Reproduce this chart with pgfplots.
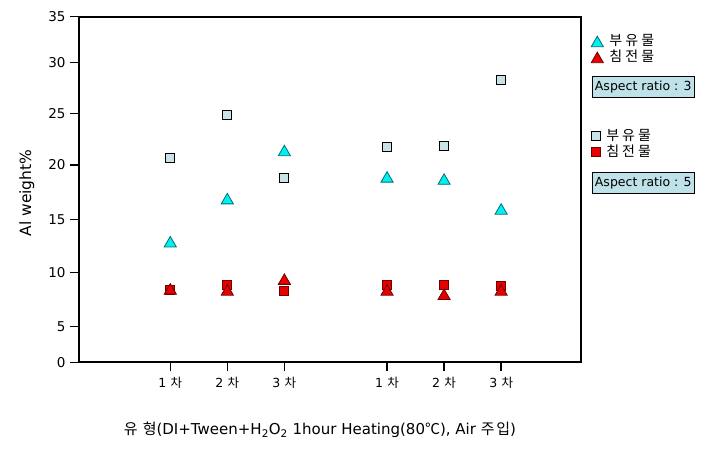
\documentclass[border=0pt]{standalone}
\usepackage{pgfplots}
\pgfplotsset{compat=1.18}
\usepackage{fontspec}
\setmainfont{DejaVu Sans}
\newfontfamily\kr[LetterSpace=12]{Noto Sans CJK KR}
\newfontfamily\krl[LetterSpace=22]{Noto Sans CJK KR}
\definecolor{lightsq}{RGB}{200,226,232}
\definecolor{cyantri}{RGB}{0,240,240}
\definecolor{cyanedge}{RGB}{0,110,120}
\definecolor{redfill}{RGB}{230,0,0}
\definecolor{rededge}{RGB}{110,0,0}
\definecolor{boxfill}{RGB}{190,226,232}
\newcommand{\lgfont}{\fontsize{14}{15}\selectfont\krl}
\begin{document}
\begin{tikzpicture}
\useasboundingbox (-79pt,-90.7pt) rectangle (632pt,362.3pt);
\pgfplotsset{
  myaxis/.style={
    scale only axis, width=502pt, height=345.6pt,
    at={(0,0)}, anchor=south west,
    xmin=0, xmax=8.8, ymin=0, ymax=35,
    y coord trafo/.code={\pgfmathparse{ifthenelse(##1<5,##1*7.12,ifthenelse(##1<10,35.6+(##1-5)*10.8,ifthenelse(##1<15,89.6+(##1-10)*10.68,ifthenelse(##1<20,143+(##1-15)*10.86,ifthenelse(##1<25,197.3+(##1-20)*10.34,ifthenelse(##1<30,249+(##1-25)*10.12,299.6+(##1-30)*9.2))))))}},
  },
  mylegend/.style={
    legend style={draw=none, fill=none, anchor=north west,
      row sep=0pt, inner sep=0pt,
      nodes={text height=10pt, text depth=2pt, inner ysep=2pt, inner xsep=1pt},
      /tikz/every odd column/.append style={column sep=5pt}},
    legend cell align=left,
  }
}
\begin{axis}[myaxis, mylegend,
  clip=false,
  axis line style={line width=2pt},
  tick pos=left, tick align=outside,
  major tick length=9pt,
  every tick/.style={black, line width=1.5pt},
  ytick={0,5,10,15,20,25,30,35},
  yticklabels={0,5,10,15,20,25,30,35},
  xtick={1.6,2.6,3.6,5.4,6.4,7.4},
  xticklabels={{1{\kr\ 차}},{2{\kr\ 차}},{3{\kr\ 차}},{1{\kr\ 차}},{2{\kr\ 차}},{3{\kr\ 차}}},
  /pgf/number format/assume math mode=true,
  yticklabel style={font=\fontsize{13.5}{15}\selectfont, xshift=-1pt},
  xticklabel style={font=\fontsize{12.5}{14}\selectfont, yshift=-2pt},
  legend style={at={(1.020,0.952)}},
]
% 부유물, Aspect ratio 5 (light squares)
\addplot[only marks, mark=square*, mark size=4.5pt, mark options={fill=lightsq, draw=black, line width=0.9pt}, forget plot]
  coordinates {(1.6,20.7) (2.6,24.8) (3.6,18.8) (5.4,21.7) (6.4,21.8) (7.4,28.3)};
% 침전물, Aspect ratio 5 (red squares)
\addplot[only marks, mark=square*, mark size=4.5pt, mark options={fill=redfill, draw=rededge, line width=0.9pt}, forget plot]
  coordinates {(1.6,8.4) (2.6,8.9) (3.6,8.35) (5.4,8.9) (6.4,8.9) (7.4,8.8)};
% 부유물, Aspect ratio 3 (cyan triangles)
\addplot[only marks, mark=triangle*, mark size=7pt, mark options={fill=cyantri, draw=cyanedge, line width=0.8pt, yshift=-1.7pt}]
  coordinates {(1.6,12.9) (2.6,16.9) (3.6,21.4) (5.4,18.9) (6.4,18.7) (7.4,15.95)};
\addlegendentry{\lgfont 부유물}
% 침전물, Aspect ratio 3 (red triangles)
\addplot[only marks, mark=triangle*, mark size=7pt, mark options={fill=redfill, draw=rededge, line width=0.8pt, yshift=-1.7pt}]
  coordinates {(1.6,8.5) (2.6,8.4) (3.6,9.4) (5.4,8.4) (6.4,8.0) (7.4,8.4)};
\addlegendentry{\lgfont 침전물}
\node[draw=black, line width=0.8pt, fill=boxfill, anchor=west, minimum width=98pt, minimum height=21pt, inner xsep=3pt, font=\fontsize{12.5}{14}\selectfont]
  at (axis description cs:1.021,0.7975) {Aspect ratio : 3};
\node[draw=black, line width=0.8pt, fill=boxfill, anchor=west, minimum width=98pt, minimum height=21pt, inner xsep=3pt, font=\fontsize{12.5}{14}\selectfont]
  at (axis description cs:1.021,0.520) {Aspect ratio : 5};
\node[rotate=90, font=\fontsize{15.5}{17}\selectfont] at (axis description cs:-0.104,0.49) {Al weight\%};
\node[font=\fontsize{15}{17}\selectfont] at (axis description cs:0.48,-0.196)
  {{\kr 유 형}(DI+Tween+H\textsubscript{2}O\textsubscript{2} 1hour Heating(80{\kr ℃}), Air {\kr 주입})};
\end{axis}
\begin{axis}[myaxis, mylegend, hide axis,
  legend style={at={(1.020,0.678)}},
]
\addlegendimage{only marks, mark=square*, mark size=4.5pt, mark options={fill=lightsq, draw=black, line width=0.9pt}}
\addlegendentry{\lgfont 부유물}
\addlegendimage{only marks, mark=square*, mark size=4.5pt, mark options={fill=redfill, draw=rededge, line width=0.9pt}}
\addlegendentry{\lgfont 침전물}
\end{axis}
\end{tikzpicture}
\end{document}
